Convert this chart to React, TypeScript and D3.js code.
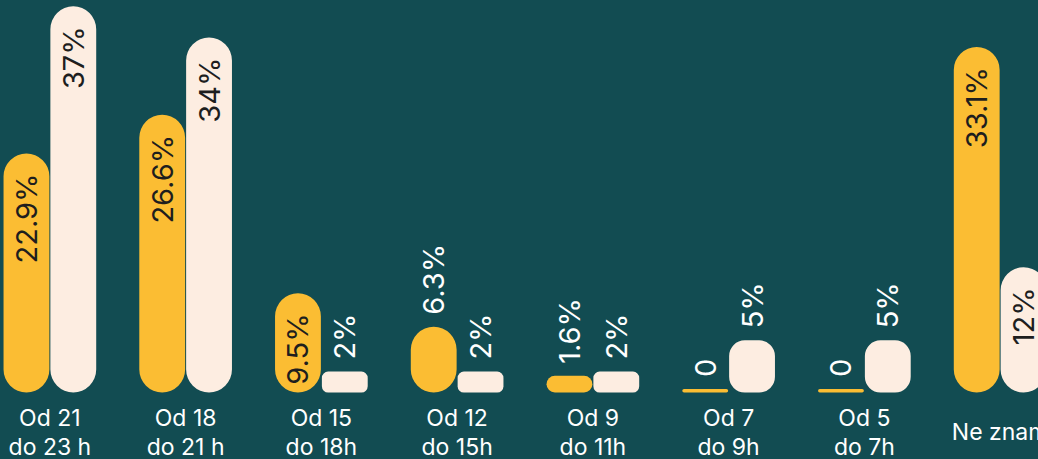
import React from "react";
import * as d3 from "d3";

const categories: string[][] = [
  ["Od 21", "do 23 h"],
  ["Od 18", "do 21 h"],
  ["Od 15", "do 18h"],
  ["Od 12", "do 15h"],
  ["Od 9", "do 11h"],
  ["Od 7", "do 9h"],
  ["Od 5", "do 7h"],
  ["Ne znam"],
];
const seriesNames = ["A", "B"];
const yellowValues = [22.9, 26.6, 9.5, 6.3, 1.6, 0, 0, 33.1];
const creamValues = [37, 34, 2, 2, 2, 5, 5, 12];

const W = 1038;
const H = 459;
const BG = "#124c52";
const YELLOW = "#fbbd33";
const CREAM = "#fdede1";
const FONT = "Inter, 'Open Sans', sans-serif";

function roundedRect(x: number, y: number, w: number, h: number, r: number) {
  const p = d3.path();
  r = Math.max(0, Math.min(r, w / 2, h / 2));
  p.moveTo(x + r, y);
  p.lineTo(x + w - r, y);
  p.arcTo(x + w, y, x + w, y + r, r);
  p.lineTo(x + w, y + h - r);
  p.arcTo(x + w, y + h, x + w - r, y + h, r);
  p.lineTo(x + r, y + h);
  p.arcTo(x, y + h, x, y + h - r, r);
  p.lineTo(x, y + r);
  p.arcTo(x, y, x + r, y, r);
  p.closePath();
  return p.toString();
}

export default function App() {
  const keys = categories.map((_, i) => String(i));
  const x = d3
    .scaleBand<string>()
    .domain(keys)
    .range([-18, 1068])
    .paddingInner(0.31)
    .paddingOuter(0.155);
  const xs = d3.scaleBand<string>().domain(seriesNames).range([0, x.bandwidth()]).padding(0);
  const y = d3.scaleLinear().domain([0, 37.6]).range([392.5, 0]);

  const series = [
    { name: "A", values: yellowValues, color: YELLOW, rFactor: 0.5 },
    { name: "B", values: creamValues, color: CREAM, rFactor: 0.3 },
  ];

  const fmt = (v: number) => (v === 0 ? "0" : `${v}%`);

  return (
    <svg
      width={W}
      height={H}
      style={{ position: "absolute", left: 0, top: 0, display: "block" }}
    >
      <rect x={0} y={0} width={W} height={H} fill={BG} />
      {series.map((s) =>
        s.values.map((v, i) => {
          const bx = (x(keys[i]) ?? 0) + (xs(s.name) ?? 0);
          const bw = xs.bandwidth();
          const base = y(0);
          let top = y(v);
          let h = base - top;
          if (h < 3.5) {
            h = 3.5;
            top = base - h;
          }
          const r = Math.min(bw / 2, h * s.rFactor);
          const inside = h > 90;
          const cx = bx + bw / 2;
          const ly = inside ? top + 20 : top - 12;
          return (
            <g key={s.name + i}>
              <path d={roundedRect(bx + 0.5, top, bw - 1, h, r)} fill={s.color} />
              <text
                transform={`translate(${cx},${ly}) rotate(-90)`}
                textAnchor={inside ? "end" : "start"}
                dominantBaseline="central"
                fontFamily={FONT}
                fontSize={29}
                fill={inside ? "#1e1e1e" : "#ffffff"}
              >
                {fmt(v)}
              </text>
            </g>
          );
        })
      )}
      {categories.map((lines, i) => {
        const cx = (x(keys[i]) ?? 0) + x.bandwidth() / 2;
        const lh = 29;
        const y0 = 440 - ((lines.length - 1) * lh) / 2;
        return (
          <text
            key={"c" + i}
            textAnchor="middle"
            fontFamily={FONT}
            fontSize={23}
            fill="#ffffff"
          >
            {lines.map((l, j) => (
              <tspan key={j} x={cx} y={y0 + j * lh}>
                {l}
              </tspan>
            ))}
          </text>
        );
      })}
    </svg>
  );
}
